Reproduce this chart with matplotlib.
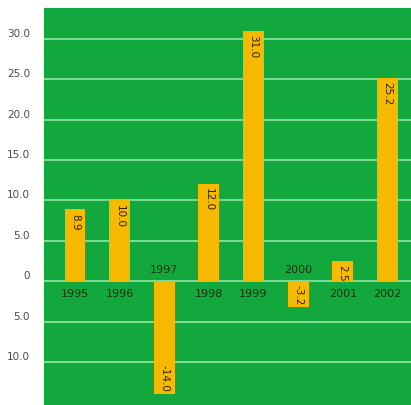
import matplotlib
matplotlib.use("Agg")
import matplotlib.pyplot as plt
import matplotlib.transforms as mtransforms

years = ["1995", "1996", "1997", "1998", "1999", "2000", "2001", "2002"]
values = [8.9, 10.0, -14.0, 12.0, 31.0, -3.2, 2.5, 25.2]
value_labels = ["8.9", "10.0", "-14.0", "12.0", "31.0", "-3.2", "2.5", "25.2"]
grid_values = [30, 25, 20, 15, 10, 5, 0, -5, -10]
tick_labels = ["30.0", "25.0", "20.0", "15.0", "10.0", "5.0", "0", "5.0", "10.0"]

GREEN = "#12a83d"
GRID = "#8fe6a4"
BAR = "#f6b900"

fig = plt.figure(figsize=(4.11, 4.06), dpi=100)
fig.patch.set_facecolor("white")
ax = fig.add_axes([44 / 411, 0, 1 - 44 / 411, 1 - 9 / 406])
ax.set_facecolor(GREEN)

x = list(range(len(years)))
ax.set_xlim(-0.695, 7.53)
ax.set_ylim(-15.3, 33.8)

for g in grid_values:
    ax.axhline(g, color=GRID, linewidth=1.2, zorder=1)

ax.bar(x, values, width=0.47, color=BAR, zorder=2)

# value text runs down the bar; year sits on the other side of zero
for xi, v, lab, yr in zip(x, values, value_labels, years):
    if v >= 0:
        ax.text(xi, v - 0.4, lab, rotation=-90, ha="center", va="top",
                fontsize=7.5, color="#2b2000", zorder=3)
        ax.text(xi, -1.4, yr, ha="center", va="center", fontsize=8,
                color="#16300c", zorder=3)
    else:
        ax.text(xi, v + 0.4, lab, rotation=-90, ha="center", va="bottom",
                fontsize=7.5, color="#2b2000", zorder=3)
        ax.text(xi, 1.5, yr, ha="center", va="center", fontsize=8,
                color="#16300c", zorder=3)

ax.set_xticks([])
ax.set_yticks(grid_values)
ax.set_yticklabels(tick_labels)
ax.tick_params(axis="y", length=0, pad=10, labelsize=7.5, labelcolor="#4a4a4a")
shift = mtransforms.ScaledTranslation(0, 5 / 72, fig.dpi_scale_trans)
for t in ax.get_yticklabels():
    t.set_transform(t.get_transform() + shift)

for s in ax.spines.values():
    s.set_visible(False)

fig.savefig("out.png", dpi=100, facecolor="white")
